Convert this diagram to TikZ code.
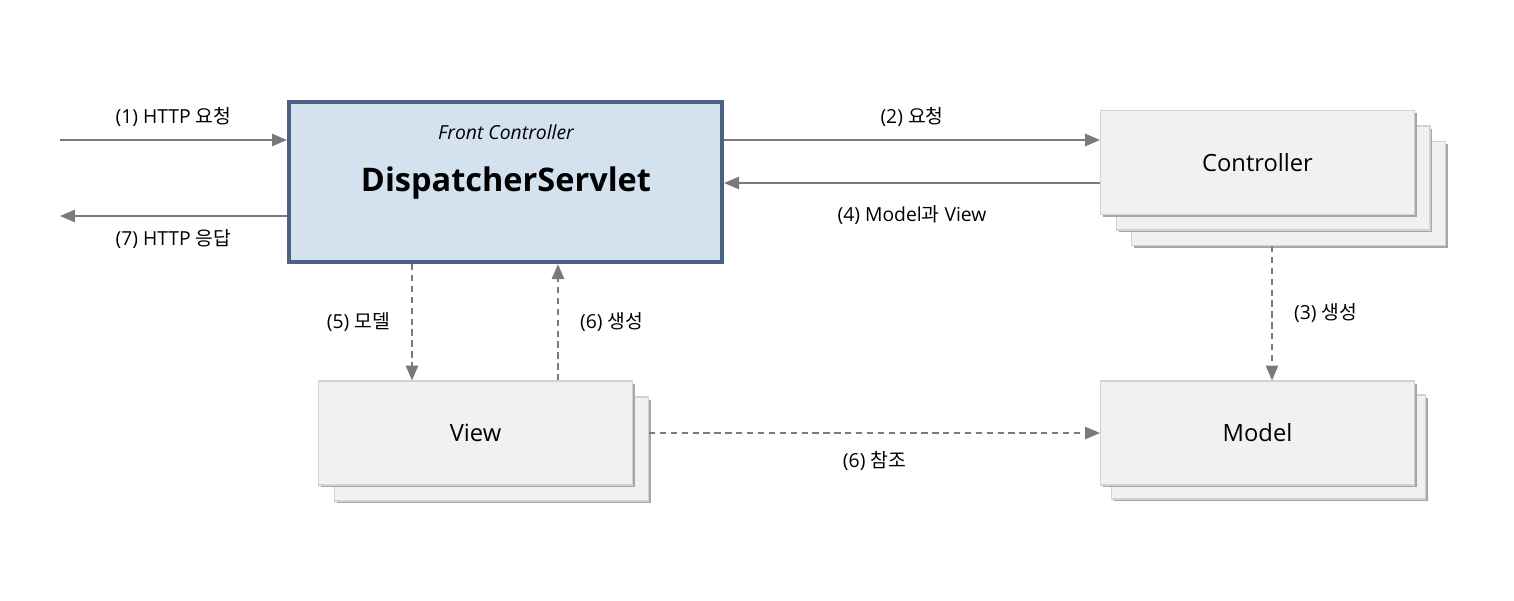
\documentclass[tikz,border=0pt]{standalone}
\usepackage{fontspec}
\setmainfont{Open Sans}
\newfontfamily\kr{Noto Sans CJK KR}
\usepackage{tikz}
\usetikzlibrary{arrows.meta,positioning,calc,shadows}

\definecolor{dsfill}{HTML}{D4E2F0}
\definecolor{dsline}{HTML}{4A6085}
\definecolor{boxfill}{HTML}{F1F1F1}
\definecolor{boxline}{HTML}{D2D2D2}
\definecolor{arrowgray}{HTML}{7A7A7A}

\begin{document}
\begin{tikzpicture}[x=0.02cm,y=0.02cm,>={Triangle[length=8.5pt,width=7pt]},line width=1.1pt,auto]
 \tikzstyle{front node}=[rectangle,draw=dsline,fill=dsfill,line width=2.4pt,minimum width=8.66cm,minimum height=3.2cm,inner sep=0]
 \tikzstyle{part node}=[rectangle,draw=boxline,fill=boxfill,line width=0.6pt,minimum width=6.28cm,minimum height=2.08cm,
   drop shadow={shadow xshift=0.05cm,shadow yshift=-0.05cm,fill=black!35,opacity=1},font=\fontsize{13.5}{16}\selectfont]
 \tikzset{
 	flow/.style={draw=arrowgray,->},
 	dflow/.style={draw=arrowgray,dash pattern=on 3.6pt off 2.6pt,->},
 	lbl/.style={font=\fontsize{11}{13}\selectfont,text=black,inner sep=2pt}
 }
 \useasboundingbox (0,0) rectangle (1514,600);

       % stacked boxes, back first
       \node[part node] (ctrl3) at (1288.5,406.5) {};
       \node[part node] (ctrl2) at (1273,422) {};
       \node[part node] (ctrl) at (1257.5,437.5) {Controller};
       \node[part node] (model2) at (1268.5,153) {};
       \node[part node] (model) at (1257.5,167) {Model};
       \node[part node] (view2) at (491.5,151) {};
       \node[part node] (view) at (475.5,167) {View};

       \node[front node] (ds) at (505.5,418) {};
       \node[font=\fontsize{11}{13}\selectfont\itshape] (fc) at (506,468) {Front Controller};
       \node[font=\fontsize{18.5}{22}\selectfont\bfseries] (dsname) at (506,417) {DispatcherServlet};

       \coordinate (in1) at (60,460);
       \coordinate (out7) at (60,384);
       \coordinate (a2) at (913,460);
       \coordinate (a4) at (913,417);
       \coordinate (a5) at (412,318);
       \coordinate (a6) at (558,318);
       \coordinate (a3) at (1272,287);

     \path (in1) edge[flow] node[lbl,above=5pt] {(1) HTTP {\kr 요청}} (in1 -| ds.west);
     \path (ds.west |- out7) edge[flow] node[lbl,below=5pt] {(7) HTTP {\kr 응답}} (out7);
     \path (ds.east |- a2) edge[flow] node[lbl,above=5pt] {(2) {\kr 요청}} (ctrl.west |- a2);
     \path (ctrl.west |- a4) edge[flow] node[lbl,below=10pt] {(4) Model{\kr 과} View} (ds.east |- a4);
     \path (ds.south -| a5) edge[dflow] node[lbl,left=10pt] {(5) {\kr 모델}} (view.north -| a5);
     \path (view.north -| a6) edge[dflow] node[lbl,right=10pt] {(6) {\kr 생성}} (ds.south -| a6);
     \path (ctrl3.south -| a3) edge[dflow] node[lbl,right=10pt] {(3) {\kr 생성}} (model.north -| a3);
     \path (view2.east |- view.east) edge[dflow] node[lbl,below=8pt] {(6) {\kr 참조}} (model.west);
 \end{tikzpicture}
\end{document}
